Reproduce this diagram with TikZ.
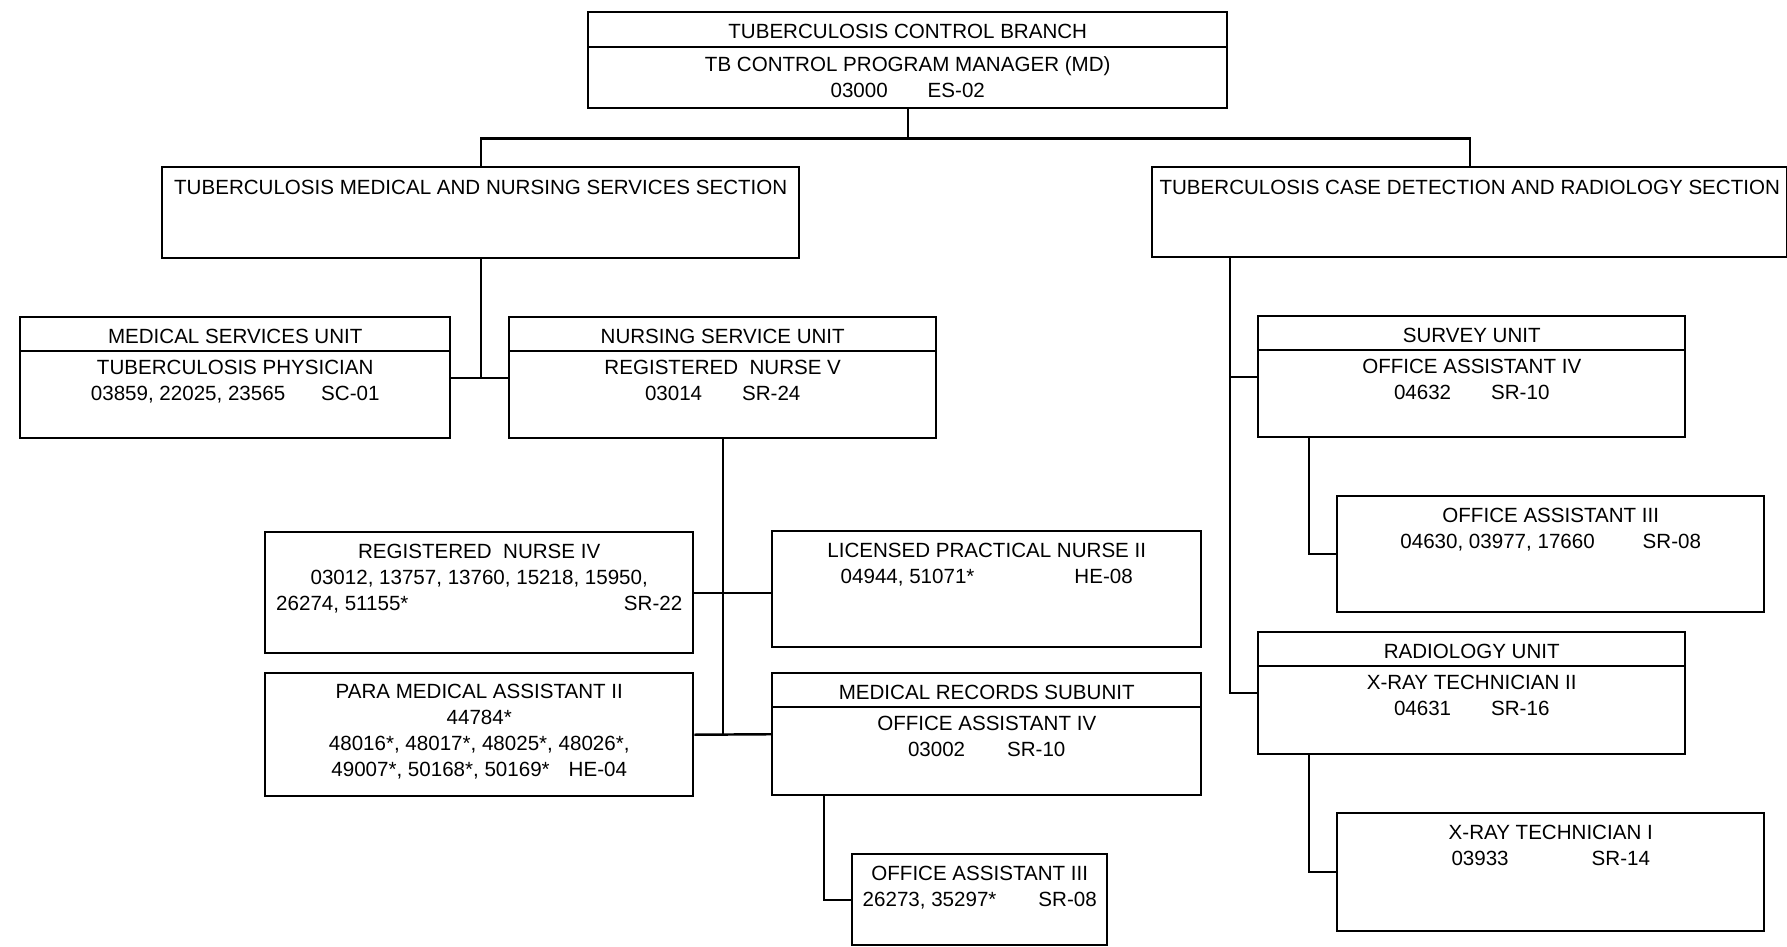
\documentclass[tikz,border=0pt]{standalone}
\usepackage{fontspec}
\setmainfont{Liberation Sans}
\usetikzlibrary{positioning}

\newcommand\chartfont{\fontsize{5.85}{7.4}\selectfont}

\begin{document}
\begin{tikzpicture}[x=1mm, y=1mm, line width=0.7pt,
    box/.style={draw, rectangle, anchor=north west, inner sep=0pt},
    txt/.style={font=\chartfont, align=center, inner sep=0pt}]
  \useasboundingbox (0,0) rectangle (178.7,-94.7);

  % branch and sections
  \node[box, minimum width=63.9mm, minimum height=9.6mm] (branch) at (58.7,-1.1) {};
  \node[txt, below=1.2mm of branch.north] {TUBERCULOSIS CONTROL BRANCH};
  \draw ([yshift=-3.6mm]branch.north west) -- ([yshift=-3.6mm]branch.north east);
  \node[txt, below=4.4mm of branch.north] {TB CONTROL PROGRAM MANAGER (MD)\\03000\hspace{4mm}ES-02};

  \node[box, minimum width=63.7mm, minimum height=9.1mm] (medsec) at (16.1,-16.6) {};
  \node[txt, below=1.3mm of medsec.north] {TUBERCULOSIS MEDICAL AND NURSING SERVICES SECTION};

  \node[box, minimum width=63.5mm, minimum height=9.0mm] (casesec) at (115.1,-16.6) {};
  \node[txt, below=1.3mm of casesec.north] {TUBERCULOSIS CASE DETECTION AND RADIOLOGY SECTION};

  % medical and nursing side
  \node[box, minimum width=43mm, minimum height=12.1mm] (medunit) at (1.9,-31.6) {};
  \node[txt, below=1.2mm of medunit.north] {MEDICAL SERVICES UNIT};
  \draw ([yshift=-3.5mm]medunit.north west) -- ([yshift=-3.5mm]medunit.north east);
  \node[txt, below=4.3mm of medunit.north] {TUBERCULOSIS PHYSICIAN\\03859, 22025, 23565\hspace{3.6mm}SC-01};

  \node[box, minimum width=42.7mm, minimum height=12.1mm] (nursunit) at (50.8,-31.6) {};
  \node[txt, below=1.2mm of nursunit.north] {NURSING SERVICE UNIT};
  \draw ([yshift=-3.5mm]nursunit.north west) -- ([yshift=-3.5mm]nursunit.north east);
  \node[txt, below=4.3mm of nursunit.north] {REGISTERED\ \ NURSE V\\03014\hspace{4mm}SR-24};

  \node[box, minimum width=42.8mm, minimum height=12.1mm] (rn4) at (26.4,-53.1) {};
  \node[txt, below=1.2mm of rn4.north] {REGISTERED\ \ NURSE IV\\03012, 13757, 13760, 15218, 15950,\\\makebox[40.6mm]{26274, 51155*\hfill SR-22}};

  \node[box, minimum width=42.9mm, minimum height=11.6mm] (lpn) at (77.1,-53.0) {};
  \node[txt, below=1.2mm of lpn.north] {LICENSED PRACTICAL NURSE II\\04944, 51071*\hspace{10mm}HE-08};

  \node[box, minimum width=42.8mm, minimum height=12.3mm] (pma) at (26.4,-67.2) {};
  \node[txt, below=1.1mm of pma.north] {PARA MEDICAL ASSISTANT II\\44784*\\48016*, 48017*, 48025*, 48026*,\\49007*, 50168*, 50169*\hspace{1.9mm}HE-04};

  \node[box, minimum width=42.9mm, minimum height=12.2mm] (records) at (77.1,-67.2) {};
  \node[txt, below=1.2mm of records.north] {MEDICAL RECORDS SUBUNIT};
  \draw ([yshift=-3.5mm]records.north west) -- ([yshift=-3.5mm]records.north east);
  \node[txt, below=4.3mm of records.north] {OFFICE ASSISTANT IV\\03002\hspace{4.2mm}SR-10};

  \node[box, minimum width=25.5mm, minimum height=9.1mm] (oa3rec) at (85.1,-85.3) {};
  \node[txt, below=1.2mm of oa3rec.north] {OFFICE ASSISTANT III\\26273, 35297*\hspace{4.2mm}SR-08};

  % case detection and radiology side
  \node[box, minimum width=42.7mm, minimum height=12.1mm] (survey) at (125.7,-31.5) {};
  \node[txt, below=1.2mm of survey.north] {SURVEY UNIT};
  \draw ([yshift=-3.5mm]survey.north west) -- ([yshift=-3.5mm]survey.north east);
  \node[txt, below=4.3mm of survey.north] {OFFICE ASSISTANT IV\\04632\hspace{4mm}SR-10};

  \node[box, minimum width=42.7mm, minimum height=11.6mm] (oa3srv) at (133.6,-49.5) {};
  \node[txt, below=1.2mm of oa3srv.north] {OFFICE ASSISTANT III\\04630, 03977, 17660\hspace{4.8mm}SR-08};

  \node[box, minimum width=42.7mm, minimum height=12.2mm] (radio) at (125.7,-63.1) {};
  \node[txt, below=1.2mm of radio.north] {RADIOLOGY UNIT};
  \draw ([yshift=-3.5mm]radio.north west) -- ([yshift=-3.5mm]radio.north east);
  \node[txt, below=4.3mm of radio.north] {X-RAY TECHNICIAN II\\04631\hspace{4mm}SR-16};

  \node[box, minimum width=42.7mm, minimum height=11.8mm] (xray1) at (133.6,-81.2) {};
  \node[txt, below=1.2mm of xray1.north] {X-RAY TECHNICIAN I\\03933\hspace{8.3mm}SR-14};

  % reporting lines
  \draw (branch.south) -- ++(0,-2.9) -| (medsec.north);
  \draw (branch.south) -- ++(0,-2.9) -| (casesec.north);

  \draw (medunit.east) -- (nursunit.west);
  \draw (medsec.south) -- (medsec.south |- medunit.east);

  \draw (nursunit.south) -- (nursunit.south |- pma.east);
  \draw (rn4.east) -- (rn4.east -| lpn.west);
  \draw (pma.east) -- (records.west);
  \coordinate (recdrop) at ([xshift=5.3mm]records.south west);
  \draw (recdrop) |- (oa3rec.west);

  \coordinate (trunk) at ([xshift=7.9mm]casesec.south west);
  \draw (trunk) |- (radio.west);
  \draw (survey.west) -- (survey.west -| trunk);
  \coordinate (srvdrop) at ([xshift=5.2mm]survey.south west);
  \draw (srvdrop) |- (oa3srv.west);
  \coordinate (raddrop) at ([xshift=5.2mm]radio.south west);
  \draw (raddrop) |- (xray1.west);
\end{tikzpicture}
\end{document}
